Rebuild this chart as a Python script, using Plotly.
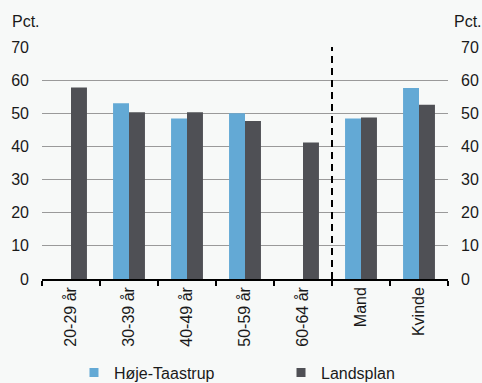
import plotly.graph_objects as go

categories = ["20-29 år", "30-39 år", "40-49 år", "50-59 år", "60-64 år", "Mand", "Kvinde"]
hoeje_taastrup = [None, 53.0, 48.4, 50.0, None, 48.4, 57.6]
landsplan = [57.8, 50.3, 50.3, 47.7, 41.2, 48.7, 52.6]
y_ticks = [0, 10, 20, 30, 40, 50, 60, 70]

BLUE = "#63a9d5"
DARK = "#4f5055"
BG = "#f7f9f8"
FONT = "Liberation Sans, Arial, sans-serif"

fig = go.Figure()
fig.add_trace(go.Bar(x=categories, y=hoeje_taastrup, name="Høje-Taastrup", showlegend=False,
                     marker=dict(color=BLUE, line=dict(width=0))))
fig.add_trace(go.Bar(x=categories, y=landsplan, name="Landsplan", showlegend=False,
                     marker=dict(color=DARK, line=dict(width=0))))
# legend proxies (small square symbols)
for nm, col, lg in [("Høje-Taastrup", BLUE, "legend"), ("Landsplan", DARK, "legend2")]:
    fig.add_trace(go.Scatter(x=[None], y=[None], mode="markers", name=nm, legend=lg,
                             marker=dict(symbol="square", size=9, color=col)))
# invisible helper trace for right axis
fig.add_trace(go.Scatter(x=categories, y=landsplan, yaxis="y2", mode="markers",
                         marker=dict(opacity=0), showlegend=False, hoverinfo="skip"))

fig.add_shape(type="line", xref="x", yref="y", x0=4.5, x1=4.5, y0=0, y1=70,
              line=dict(color="black", width=2, dash="7px,5px"))

leg_common = dict(orientation="h", xref="container", xanchor="left",
                  y=-0.403, yanchor="middle", font=dict(size=16), itemwidth=30,
                  bgcolor="rgba(0,0,0,0)")

fig.update_layout(
    width=482, height=383,
    margin=dict(l=42, r=34, t=47, b=104, autoexpand=False),
    paper_bgcolor=BG, plot_bgcolor=BG,
    font=dict(family=FONT, size=16, color="#1a1a1a"),
    barmode="group", bargap=0.45, bargroupgap=0,
    showlegend=True,
    legend=dict(x=0.1535, **leg_common),
    legend2=dict(x=0.583, **leg_common),
    xaxis=dict(type="category", showline=True, linecolor="black", linewidth=1.5,
               ticks="outside", tickson="boundaries", ticklen=5, tickwidth=1.5,
               tickcolor="black", tickangle=-90, showgrid=False, automargin=False,
               tickfont=dict(size=16), range=[-0.5, 6.5]),
    yaxis=dict(range=[0, 70], tickvals=y_ticks, showgrid=True, gridcolor="#9a9a9a",
               gridwidth=1, zeroline=False, showline=False, ticks="", automargin=False,
               tickfont=dict(size=16), ticklabelstandoff=12),
    yaxis2=dict(range=[0, 70], tickvals=y_ticks, overlaying="y", side="right",
                showgrid=False, zeroline=False, showline=False, ticks="", automargin=False,
                tickfont=dict(size=16), ticklabelstandoff=12),
    annotations=[
        dict(text="Pct.", xref="paper", yref="paper", x=-0.08, y=1.065,
             xanchor="left", yanchor="bottom", showarrow=False, font=dict(size=16)),
        dict(text="Pct.", xref="paper", yref="paper", x=1.01, y=1.065,
             xanchor="left", yanchor="bottom", showarrow=False, font=dict(size=16)),
    ],
)

fig.write_html("out.html", config={"displayModeBar": False},
               post_script="document.body.style.margin='0';")
